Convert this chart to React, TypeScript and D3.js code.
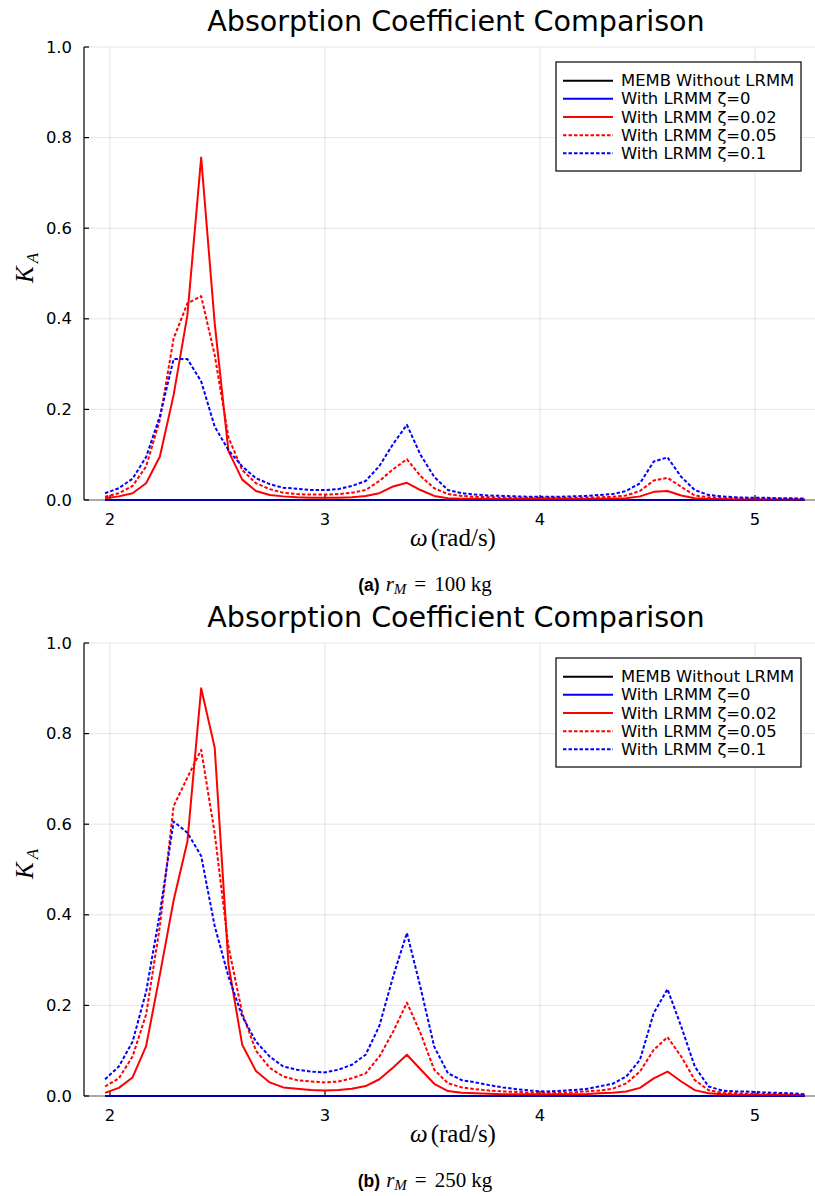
import React from "react";
import * as d3 from "d3";

// ---------- data ----------
const omega = [
  1.977, 2.041, 2.105, 2.168, 2.232, 2.296, 2.36, 2.424, 2.487, 2.551,
  2.615, 2.679, 2.743, 2.806, 2.87, 2.934, 2.998, 3.062, 3.125, 3.189,
  3.253, 3.317, 3.381, 3.444, 3.508, 3.572, 3.636, 3.7, 3.763, 3.827,
  3.891, 3.955, 4.019, 4.082, 4.146, 4.21, 4.274, 4.338, 4.401, 4.465,
  4.529, 4.593, 4.657, 4.72, 4.784, 4.848, 4.912, 4.976, 5.039, 5.103,
  5.167, 5.231,
];

const zeroCurve = [
  0, 0, 0, 0, 0, 0, 0, 0, 0, 0, 0, 0, 0, 0, 0, 0, 0, 0, 0, 0, 0, 0, 0, 0, 0, 0,
  0, 0, 0, 0, 0, 0, 0, 0, 0, 0, 0, 0, 0, 0, 0, 0, 0, 0, 0, 0, 0, 0, 0, 0, 0, 0,
];

// (a) r_M = 100 kg
const memb_a = zeroCurve;
const z0_a = zeroCurve;
const z002_a = [
  0.004, 0.008, 0.015, 0.037, 0.096, 0.232, 0.408, 0.756, 0.39, 0.108,
  0.045, 0.02, 0.011, 0.008, 0.006, 0.005, 0.005, 0.005, 0.006, 0.009,
  0.015, 0.03, 0.038, 0.022, 0.009, 0.004, 0.003, 0.003, 0.002, 0.002,
  0.002, 0.002, 0.002, 0.002, 0.002, 0.002, 0.003, 0.003, 0.004, 0.008,
  0.018, 0.02, 0.01, 0.004, 0.002, 0.002, 0.001, 0.001, 0.001, 0.001,
  0.001, 0.001,
];
const z005_a = [
  0.007, 0.015, 0.031, 0.074, 0.177, 0.357, 0.434, 0.45, 0.32, 0.138,
  0.066, 0.037, 0.024, 0.016, 0.013, 0.012, 0.012, 0.013, 0.016, 0.022,
  0.042, 0.068, 0.09, 0.053, 0.026, 0.013, 0.009, 0.007, 0.006, 0.005,
  0.005, 0.005, 0.005, 0.005, 0.005, 0.005, 0.006, 0.007, 0.01, 0.02,
  0.043, 0.049, 0.029, 0.01, 0.006, 0.004, 0.004, 0.003, 0.003, 0.003,
  0.002, 0.002,
];
const z01_a = [
  0.015, 0.026, 0.047, 0.095, 0.185, 0.311, 0.311, 0.262, 0.162, 0.11,
  0.074, 0.048, 0.035, 0.027, 0.025, 0.022, 0.022, 0.024, 0.031, 0.042,
  0.075, 0.124, 0.166, 0.1, 0.051, 0.022, 0.015, 0.012, 0.01, 0.009,
  0.008, 0.007, 0.007, 0.007, 0.008, 0.009, 0.011, 0.013, 0.02, 0.037,
  0.085, 0.094, 0.051, 0.022, 0.011, 0.008, 0.006, 0.005, 0.005, 0.004,
  0.004, 0.003,
];

// (b) r_M = 250 kg
const memb_b = zeroCurve;
const z0_b = zeroCurve;
const z002_b = [
  0.007, 0.018, 0.041, 0.11, 0.268, 0.432, 0.562, 0.9, 0.769, 0.29,
  0.113, 0.055, 0.03, 0.019, 0.016, 0.013, 0.012, 0.013, 0.016, 0.022,
  0.037, 0.063, 0.091, 0.059, 0.027, 0.011, 0.007, 0.006, 0.005, 0.004,
  0.004, 0.004, 0.004, 0.004, 0.004, 0.004, 0.006, 0.007, 0.01, 0.018,
  0.039, 0.054, 0.032, 0.013, 0.006, 0.004, 0.003, 0.003, 0.002, 0.002,
  0.002, 0.002,
];
const z005_b = [
  0.021, 0.039, 0.087, 0.18, 0.375, 0.64, 0.703, 0.764, 0.58, 0.33,
  0.183, 0.1, 0.062, 0.043, 0.035, 0.032, 0.03, 0.032, 0.039, 0.05,
  0.087, 0.142, 0.206, 0.139, 0.058, 0.028, 0.019, 0.015, 0.012, 0.01,
  0.009, 0.007, 0.007, 0.007, 0.008, 0.01, 0.012, 0.016, 0.028, 0.054,
  0.102, 0.13, 0.087, 0.035, 0.013, 0.007, 0.006, 0.005, 0.0045, 0.004,
  0.003, 0.002,
];
const z01_b = [
  0.037, 0.065, 0.12, 0.23, 0.404, 0.606, 0.581, 0.53, 0.375, 0.264,
  0.176, 0.12, 0.087, 0.065, 0.058, 0.054, 0.052, 0.058, 0.069, 0.091,
  0.155, 0.264, 0.36, 0.24, 0.109, 0.05, 0.035, 0.03, 0.024, 0.019,
  0.015, 0.012, 0.01, 0.011, 0.013, 0.015, 0.021, 0.027, 0.043, 0.08,
  0.183, 0.236, 0.153, 0.065, 0.021, 0.012, 0.01, 0.0096, 0.008, 0.007,
  0.006, 0.004,
];

const xTicks = [2, 3, 4, 5];
const yTicks = [0, 0.2, 0.4, 0.6, 0.8, 1.0];
const seriesLabels = [
  "MEMB Without LRMM",
  "With LRMM ζ=0",
  "With LRMM ζ=0.02",
  "With LRMM ζ=0.05",
  "With LRMM ζ=0.1",
];
const seriesColors = ["#000000", "#0000ff", "#ff0000", "#ff0000", "#0000ff"];
const seriesDashed = [false, false, false, true, true];
const titleText = "Absorption Coefficient Comparison";

// ---------- layout ----------
const W = 815;
const H = 1196;
const PLOT_LEFT = 84;
const PLOT_RIGHT = 815;
const PLOT_TOP = 47;
const PLOT_BOTTOM = 500;
const PANEL_OFFSET = 596;

const x = d3.scaleLinear().domain([2, 5]).range([110, 755]);
const y = d3.scaleLinear().domain([0, 1]).range([PLOT_BOTTOM, PLOT_TOP]);

const SANS = "'DejaVu Sans', sans-serif";
const SERIF = "'Liberation Serif', 'DejaVu Serif', serif";

function Panel({
  series,
  letter,
  mass,
  offset,
}: {
  series: number[][];
  letter: string;
  mass: string;
  offset: number;
}) {
  const line = d3
    .line<number>()
    .x((_, i) => x(omega[i]))
    .y((d) => y(d));

  return (
    <g transform={`translate(0,${offset})`}>
      <text
        x={456}
        y={31}
        textAnchor="middle"
        fontFamily={SANS}
        fontSize={28.6}
        fill="#000"
      >
        {titleText}
      </text>
      {/* grid */}
      {xTicks.map((t) => (
        <line
          key={"gx" + t}
          x1={x(t)}
          x2={x(t)}
          y1={PLOT_TOP}
          y2={PLOT_BOTTOM}
          stroke="#000"
          strokeOpacity={0.1}
          strokeWidth={1}
        />
      ))}
      {yTicks.map((t) => (
        <line
          key={"gy" + t}
          x1={PLOT_LEFT}
          x2={PLOT_RIGHT}
          y1={y(t)}
          y2={y(t)}
          stroke="#000"
          strokeOpacity={0.1}
          strokeWidth={1}
        />
      ))}
      {/* y axis */}
      <line x1={PLOT_LEFT} x2={PLOT_LEFT} y1={PLOT_TOP} y2={PLOT_BOTTOM} stroke="#000" strokeWidth={1.2} />
      {yTicks.map((t) => (
        <g key={"ty" + t}>
          <line x1={PLOT_LEFT} x2={PLOT_LEFT + 5} y1={y(t)} y2={y(t)} stroke="#000" strokeWidth={1.2} />
          <text
            x={72}
            y={y(t)}
            textAnchor="end"
            dominantBaseline="central"
            fontFamily={SANS}
            fontSize={16.4}
            fill="#000"
          >
            {t.toFixed(1)}
          </text>
        </g>
      ))}
      {xTicks.map((t) => (
        <g key={"tx" + t}>
          <line x1={x(t)} x2={x(t)} y1={PLOT_BOTTOM} y2={PLOT_BOTTOM - 5} stroke="#000" strokeWidth={1.2} />
          <text
            x={x(t)}
            y={519}
            textAnchor="middle"
            dominantBaseline="central"
            fontFamily={SANS}
            fontSize={16.4}
            fill="#000"
          >
            {t}
          </text>
        </g>
      ))}
      {/* series */}
      {series.map((s, k) => (
        <path
          key={"s" + k}
          d={line(s) || ""}
          fill="none"
          stroke={seriesColors[k]}
          strokeWidth={2}
          strokeDasharray={seriesDashed[k] ? "3.5,2" : undefined}
          strokeLinejoin="round"
        />
      ))}
      {/* x axis on top */}
      <line x1={PLOT_LEFT} x2={PLOT_RIGHT} y1={PLOT_BOTTOM} y2={PLOT_BOTTOM} stroke="#000" strokeWidth={1} strokeOpacity={0.6} />
      {/* legend */}
      <rect x={556} y={62} width={245} height={109} fill="#fff" stroke="#000" strokeWidth={1.2} />
      {seriesLabels.map((lab, k) => {
        const yy = 80.7 + k * 18.15;
        return (
          <g key={"l" + k}>
            <line
              x1={563}
              x2={613}
              y1={yy}
              y2={yy}
              stroke={seriesColors[k]}
              strokeWidth={2}
              strokeDasharray={seriesDashed[k] ? "3.5,2" : undefined}
            />
            <text
              x={621}
              y={yy}
              dominantBaseline="central"
              fontFamily={SANS}
              fontSize={16.4}
              fill="#000"
            >
              {lab}
            </text>
          </g>
        );
      })}
      {/* axis labels */}
      <text x={453} y={546} textAnchor="middle" fontFamily={SERIF} fontSize={25} fill="#000">
        <tspan fontStyle="italic">ω</tspan>
        <tspan dx={3}>(rad/s)</tspan>
      </text>
      <text
        transform="translate(33,268) rotate(-90)"
        textAnchor="middle"
        fontFamily={SERIF}
        fontSize={25}
        fill="#000"
      >
        <tspan fontStyle="italic">K</tspan>
        <tspan fontStyle="italic" fontSize={17} dy={5} dx={3}>A</tspan>
      </text>
      {/* caption */}
      <text x={425} y={591} textAnchor="middle" fill="#000">
        <tspan fontFamily="'Liberation Sans', Arial, sans-serif" fontWeight="bold" fontSize={17.5}>
          {`(${letter})`}
        </tspan>
        <tspan fontFamily={SERIF} fontStyle="italic" fontSize={21} dx={6}>r</tspan>
        <tspan fontFamily={SERIF} fontStyle="italic" fontSize={15} dy={3}>M</tspan>
        <tspan fontFamily={SERIF} fontSize={21} dy={-3} dx={8}>=</tspan>
        <tspan fontFamily={SERIF} fontSize={21} dx={8}>{mass}</tspan>
        <tspan fontFamily={SERIF} fontSize={21} dx={5}>kg</tspan>
      </text>
    </g>
  );
}

export default function App() {
  return (
    <svg
      width={W}
      height={H}
      viewBox={`0 0 ${W} ${H}`}
      style={{ position: "absolute", left: 0, top: 0, background: "#fff" }}
    >
      <rect x={0} y={0} width={W} height={H} fill="#fff" />
      <Panel series={[memb_a, z0_a, z002_a, z005_a, z01_a]} letter="a" mass="100" offset={0} />
      <Panel series={[memb_b, z0_b, z002_b, z005_b, z01_b]} letter="b" mass="250" offset={PANEL_OFFSET} />
    </svg>
  );
}
